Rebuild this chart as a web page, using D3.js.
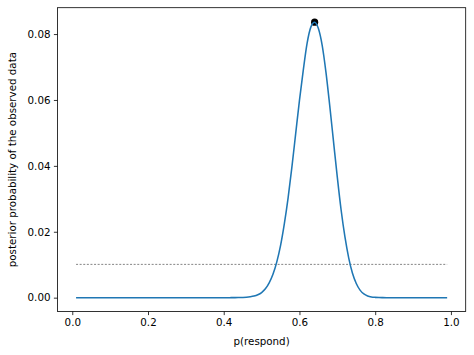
<!DOCTYPE html>
<html>
<head>
<meta charset="utf-8">
<script src="https://cdn.jsdelivr.net/npm/d3@7"></script>
<style>
  html, body { margin: 0; padding: 0; background: #fff; }
  text { font-family: "DejaVu Sans", sans-serif; }
</style>
</head>
<body>
<svg id="chart" width="474" height="355"></svg>
<script>
// grid of p values, 0.01 .. 0.99
var pGrid = d3.range(1, 100).map(function(i) { return i / 100; });

// posterior, one value per grid point
var posterior = [
    0, 0, 0, 0, 0, 0, 0, 0, 0, 0,                       // 0.01-0.10
    0, 0, 0, 0, 0, 0, 0, 0, 0, 0,                       // 0.11-0.20
    0, 0, 0, 0, 0, 0, 0, 0, 0, 0,                       // 0.21-0.30
    0, 0, 0, 0, 0, 0, 0, 0, 0, 0,                       // 0.31-0.40
    0.000002, 0.000005, 0.00001, 0.00003, 0.00006, 0.00012, 0.00025, 0.00047, 0.00088, 0.00156, // 0.41-0.50
    0.0027, 0.0045, 0.0071, 0.0108, 0.0158, 0.0224, 0.0303, 0.0396, 0.0498, 0.0599, // 0.51-0.60
    0.0690, 0.0771, 0.0821, 0.0836, 0.0817, 0.0766, 0.0684, 0.0582, 0.0473, 0.0365, // 0.61-0.70
    0.0266, 0.0185, 0.0121, 0.0074, 0.0043, 0.0023, 0.00114, 0.00052, 0.00022, 0.00009, // 0.71-0.80
    0.00003, 0.00001, 0.000003, 0, 0, 0, 0, 0, 0, 0,    // 0.81-0.90
    0, 0, 0, 0, 0, 0, 0, 0, 0                           // 0.91-0.99
];

// flat reference level (uniform prior)
var priorLevel = 0.0101;
var mapPoint = { p: 0.64, value: 0.0836 };

var xTicks = [0.0, 0.2, 0.4, 0.6, 0.8, 1.0];
var yTicks = [0.00, 0.02, 0.04, 0.06, 0.08];

var svg = d3.select('#chart');
var plotLeft = 57.5, plotRight = 465.7, plotTop = 7.7, plotBottom = 311.5;

var xScale = d3.scaleLinear().domain([-0.039, 1.039]).range([plotLeft, plotRight]);
var yScale = d3.scaleLinear().domain([-0.0042, 0.088]).range([plotBottom, plotTop]);

var data = pGrid.map(function(p, i) {
    return { p: p, value: posterior[i] };
});

// dotted reference line
svg.append('line')
    .attr('x1', xScale(pGrid[0]))
    .attr('x2', xScale(pGrid[pGrid.length - 1]))
    .attr('y1', yScale(priorLevel))
    .attr('y2', yScale(priorLevel))
    .attr('stroke', '#333')
    .attr('stroke-width', 0.6)
    .attr('stroke-dasharray', '2,1.6');

// maximum point
svg.append('circle')
    .attr('cx', xScale(mapPoint.p))
    .attr('cy', yScale(mapPoint.value))
    .attr('r', 3.6)
    .attr('fill', '#000');

var line = d3.line()
    .x(function(d) { return xScale(d.p); })
    .y(function(d) { return yScale(d.value); })
    .curve(d3.curveMonotoneX);

svg.append('path')
    .datum(data)
    .attr('d', line)
    .attr('fill', 'none')
    .attr('stroke', '#1f77b4')
    .attr('stroke-width', 1.55)
    .attr('stroke-linejoin', 'round');

// axes
var xAxis = d3.axisBottom(xScale)
    .tickValues(xTicks)
    .tickFormat(d3.format('.1f'))
    .tickSize(3.6)
    .tickPadding(3.4)
    .tickSizeOuter(0);

var yAxis = d3.axisLeft(yScale)
    .tickValues(yTicks)
    .tickFormat(d3.format('.2f'))
    .tickSize(3.6)
    .tickPadding(3.4)
    .tickSizeOuter(0);

var gx = svg.append('g')
    .attr('transform', 'translate(0,' + plotBottom + ')')
    .call(xAxis);

var gy = svg.append('g')
    .attr('transform', 'translate(' + plotLeft + ',0)')
    .call(yAxis);

[gx, gy].forEach(function(g) {
    g.select('.domain').remove();
    g.selectAll('.tick line').attr('stroke', '#000').attr('stroke-width', 0.8);
    g.selectAll('.tick text')
        .attr('fill', '#000')
        .style('font-size', '10.3px')
        .style('font-family', '"DejaVu Sans", sans-serif');
});

// frame
svg.append('rect')
    .attr('x', plotLeft)
    .attr('y', plotTop)
    .attr('width', plotRight - plotLeft)
    .attr('height', plotBottom - plotTop)
    .attr('fill', 'none')
    .attr('stroke', '#000')
    .attr('stroke-width', 0.8);

// labels
svg.append('text')
    .attr('x', (plotLeft + plotRight) / 2)
    .attr('y', 344.5)
    .attr('text-anchor', 'middle')
    .style('font-size', '10.3px')
    .text('p(respond)');

svg.append('text')
    .attr('transform', 'translate(15.5,' + ((plotTop + plotBottom) / 2) + ') rotate(-90)')
    .attr('text-anchor', 'middle')
    .style('font-size', '10.3px')
    .text('posterior probability of the observed data');
</script>
</body>
</html>
